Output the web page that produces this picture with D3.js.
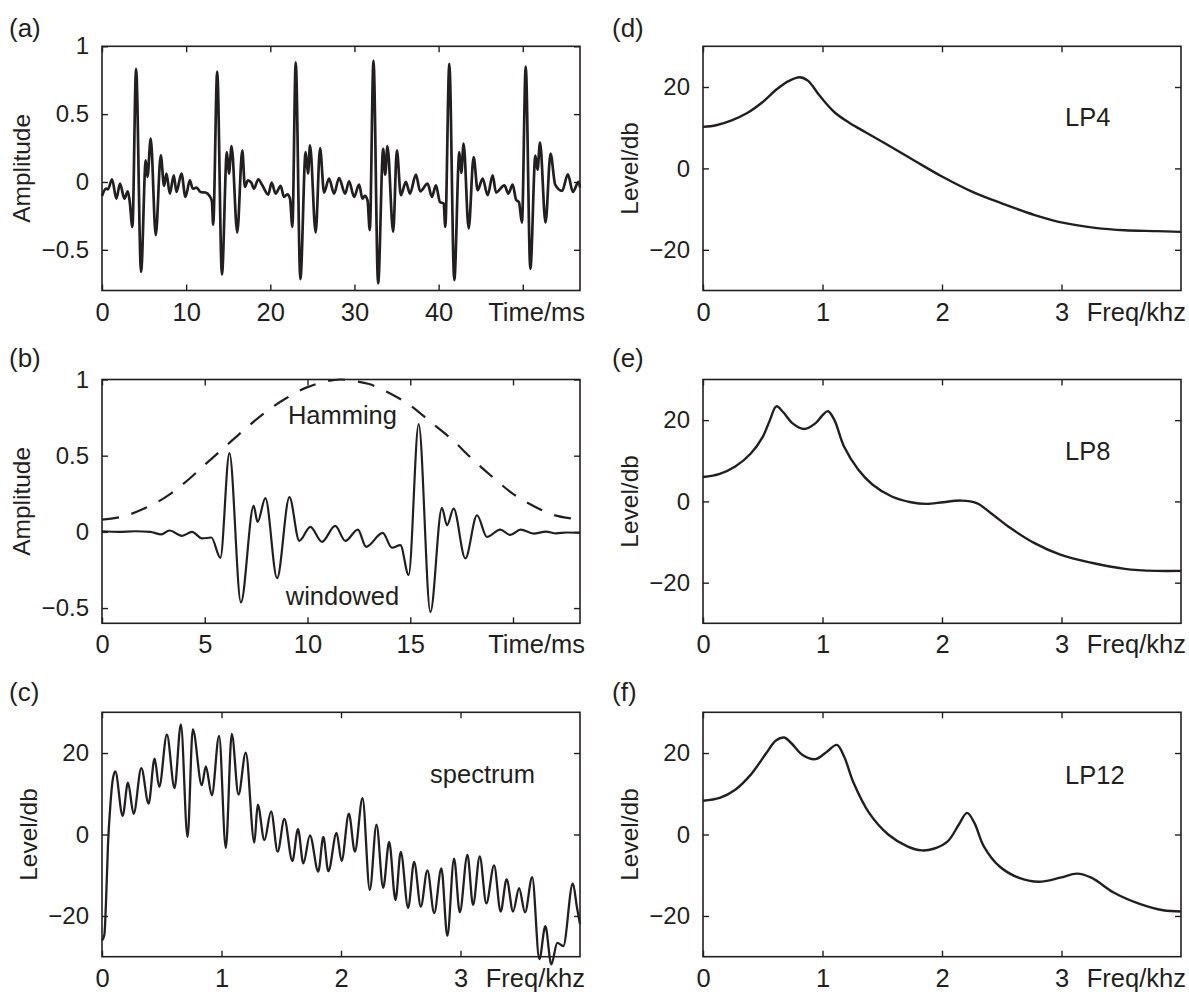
<!DOCTYPE html>
<html>
<head>
<meta charset="utf-8">
<script src="https://cdn.jsdelivr.net/npm/d3@7"></script>
<style>
  html, body { margin: 0; padding: 0; background: #fff; }
  svg { display: block; }
</style>
</head>
<body>
<svg id="fig" width="1189" height="992"></svg>
<script>
// (a) voiced speech segment
const speechMs = [0.00, 0.48, 0.71, 1.19, 1.71, 2.14, 2.66, 3.06, 3.29, 3.61,
  4.05, 4.64, 5.20, 5.40, 5.79, 6.39, 6.98,
  7.38, 7.66, 8.06, 8.53, 8.85, 9.44, 9.92, 10.44, 10.79, 11.23, 11.71, 12.30, 12.78, 13.06, 13.21,
  13.69, 14.25, 14.84, 15.08, 15.40, 16.07, 16.67,
  16.98, 17.34, 17.74, 18.06, 18.57, 19.05, 19.76, 20.16, 20.63, 21.23, 21.63, 22.02, 22.34, 22.62,
  23.02, 23.57, 24.20, 24.48, 24.72, 25.39, 25.91,
  26.39, 26.98, 27.58, 28.17, 28.89, 29.36, 29.95, 30.55, 30.95, 31.23, 31.55, 31.82,
  32.26, 32.81, 33.41, 33.65, 33.92, 34.60, 35.04,
  35.51, 36.11, 36.59, 37.30, 37.81, 38.69, 39.20, 39.68, 40.16, 40.60, 40.79,
  41.27, 41.86, 42.46, 42.69, 42.97, 43.57, 44.16,
  44.64, 45.23, 45.83, 46.42, 46.82, 47.82, 48.29, 48.80, 49.20, 49.55, 49.90,
  50.35, 50.90, 51.50, 51.75, 52.05, 52.70, 53.30,
  53.85, 54.67, 55.36, 55.95, 56.63, 56.80];
const speechAmp = [-0.103, -0.049, -0.054, 0.020, -0.123, -0.012, -0.123, -0.069, -0.142, -0.331,
  0.833, -0.662, 0.159, 0.037, 0.319, -0.392, 0.196,
  -0.029, 0.061, -0.086, 0.049, -0.074, 0.061, -0.110, 0.012, -0.049, -0.042, -0.074, -0.078, -0.103, -0.142, -0.314,
  0.814, -0.681, 0.221, 0.061, 0.265, -0.373, 0.233,
  -0.037, 0.012, -0.005, -0.049, 0.020, -0.025, -0.093, -0.005, -0.086, -0.029, -0.110, -0.091, -0.123, -0.331,
  0.882, -0.716, 0.221, 0.061, 0.270, -0.373, 0.250,
  -0.078, 0.025, -0.086, 0.029, -0.086, 0.005, -0.110, -0.020, -0.123, -0.103, -0.135, -0.355,
  0.895, -0.748, 0.245, 0.054, 0.265, -0.368, 0.233,
  -0.098, 0.000, -0.086, 0.054, -0.069, -0.012, -0.110, -0.025, -0.147, -0.159, -0.331,
  0.870, -0.723, 0.221, 0.066, 0.282, -0.343, 0.184,
  -0.061, 0.025, -0.098, 0.049, -0.078, -0.025, -0.086, -0.020, -0.130, -0.150, -0.300,
  0.850, -0.640, 0.195, 0.090, 0.290, -0.300, 0.210,
  -0.020, -0.066, 0.056, -0.073, 0.000, -0.040];

// (b) Hamming-windowed frame and the window itself
const windowedMs = [0, 0.81, 1.62, 2.35, 2.89, 3.28, 3.89, 4.38, 4.87, 5.32,
  5.76, 6.20, 6.76, 7.38, 7.57, 7.95, 8.52, 9.12, 9.60, 10.14,
  10.70, 11.35, 11.84, 12.45, 12.85, 13.66, 14.11, 14.52, 14.92, 15.41,
  15.98, 16.54, 16.79, 17.11, 17.68, 18.25, 18.73, 19.38, 19.86, 20.37,
  21.0, 21.6, 22.1, 22.6, 23.26];
const windowedAmp = [0.004, 0.000, 0.004, 0.000, -0.017, 0.009, -0.026, 0.000, -0.043, -0.037,
  -0.170, 0.517, -0.463, 0.170, 0.065, 0.222, -0.304, 0.228, -0.059, 0.033,
  -0.065, 0.039, -0.059, 0.015, -0.098, -0.007, -0.104, -0.087, -0.283, 0.707,
  -0.526, 0.157, 0.043, 0.152, -0.174, 0.109, -0.033, 0.015, -0.020, 0.015,
  -0.011, 0.002, -0.010, -0.004, -0.007];
const hammingMs = [0, 1, 2, 3, 4, 5, 6, 7, 8, 9, 10, 11, 11.6, 12, 13, 14, 15, 16, 17, 18, 19, 20, 21, 22, 23.26];
const hammingAmp = [0.08, 0.10, 0.15, 0.22, 0.32, 0.44, 0.56, 0.68, 0.79, 0.88, 0.95, 0.99, 1.0, 0.995,
  0.97, 0.91, 0.83, 0.72, 0.61, 0.48, 0.36, 0.25, 0.17, 0.11, 0.08];

// (c) short-time spectrum
const spectrumKhz = [0.000, 0.020, 0.033, 0.050, 0.070, 0.089, 0.111, 0.173, 0.217, 0.265,
  0.329, 0.390, 0.440, 0.479, 0.543, 0.607, 0.660, 0.716, 0.760, 0.835,
  0.869, 0.919, 0.980, 1.036, 1.086, 1.142, 1.203, 1.275, 1.303, 1.359,
  1.415, 1.470, 1.526, 1.593, 1.640, 1.685, 1.740, 1.810, 1.852, 1.894,
  1.963, 2.005, 2.066, 2.116, 2.180, 2.241, 2.297, 2.353, 2.403, 2.456,
  2.500, 2.562, 2.612, 2.668, 2.723, 2.780, 2.840, 2.890, 2.946, 2.994,
  3.058, 3.105, 3.161, 3.216, 3.281, 3.336, 3.386, 3.440, 3.490, 3.540,
  3.600, 3.660, 3.710, 3.760, 3.810, 3.860, 3.940, 3.975, 4.000];
const spectrumDb = [-26.0, -24.6, -17.0, -2.6, 7.2, 13.3, 15.5, 4.6, 12.7, 5.1,
  16.3, 7.6, 18.6, 11.7, 24.5, 11.4, 27.0, -0.6, 25.8, 12.1,
  16.7, 9.6, 24.2, -3.3, 24.7, 9.8, 20.1, -2.0, 7.3, -1.4,
  5.7, -4.2, 3.8, -6.5, 1.3, -7.1, -0.2, -9.1, -0.6, -9.0,
  0.4, -6.5, 5.1, -4.2, 8.9, -13.6, 2.4, -13.1, -1.8, -16.1,
  -4.3, -18.0, -6.7, -17.7, -8.8, -19.3, -8.3, -24.9, -5.9, -19.1,
  -5.0, -17.3, -5.4, -16.9, -7.6, -18.9, -11.0, -18.9, -13.2, -19.1,
  -10.5, -30.6, -22.5, -31.9, -26.6, -27.4, -12.0, -18.0, -22.0];

// (d)-(f) LPC envelopes of order 4, 8 and 12
const lp4Khz = [0, 0.11, 0.24, 0.37, 0.50, 0.62, 0.72, 0.81, 0.88, 0.975, 1.10, 1.23,
  1.36, 1.55, 1.77, 2.00, 2.25, 2.51, 2.77, 3.02, 3.28, 3.53, 3.79, 4.00];
const lp4Db = [10.2, 10.6, 11.8, 13.6, 16.3, 19.5, 21.5, 22.4, 21.5, 17.9, 13.8, 11.1,
  8.9, 5.7, 1.9, -2.0, -5.7, -8.7, -11.4, -13.4, -14.6, -15.2, -15.4, -15.6];
const lp8Khz = [0, 0.14, 0.27, 0.40, 0.50, 0.56, 0.614, 0.67, 0.75, 0.847,
  0.94, 1.00, 1.046, 1.10, 1.18, 1.30, 1.42, 1.58, 1.74, 1.87,
  2.01, 2.16, 2.29, 2.41, 2.57, 2.77, 2.99, 3.25, 3.53, 3.79, 4.00];
const lp8Db = [6.0, 6.8, 8.6, 11.8, 15.9, 20.0, 23.4, 22.0, 19.2, 17.8,
  19.2, 21.2, 22.2, 20.0, 13.5, 7.8, 4.1, 1.2, -0.2, -0.6,
  -0.2, 0.2, -0.4, -2.9, -6.5, -10.2, -13.1, -15.1, -16.6, -17.1, -17.1];
const lp12Khz = [0, 0.14, 0.27, 0.40, 0.53, 0.61, 0.68, 0.74, 0.83, 0.94,
  1.04, 1.12, 1.18, 1.26, 1.39, 1.55, 1.71, 1.83, 1.93, 2.05,
  2.14, 2.21, 2.27, 2.35, 2.48, 2.64, 2.81, 2.99, 3.13, 3.25,
  3.44, 3.66, 3.85, 4.00];
const lp12Db = [8.3, 9.0, 11.0, 14.7, 20.0, 23.1, 23.8, 22.4, 19.6, 18.5,
  20.4, 22.0, 19.2, 12.7, 5.3, 0.0, -2.9, -3.9, -3.5, -1.6,
  2.4, 5.3, 2.9, -2.9, -7.8, -10.6, -11.6, -10.6, -9.6, -10.6,
  -14.3, -17.1, -18.6, -18.9];

// tick values
const timeTicksA = [0, 10, 20, 30, 40, 50];
const timeLabelsA = [0, 10, 20, 30, 40];
const timeTicksB = [0, 5, 10, 15, 20];
const timeLabelsB = [0, 5, 10, 15];
const freqTicks = [0, 1, 2, 3];
const freqLabels = [0, 1, 2, 3];
const ampTicks = [-0.5, 0, 0.5, 1];
const levelTicks = [-20, 0, 20];

// ---- layout and styling ----
const ink = "#231f20";
const fontFamily = '"Liberation Sans", Arial, Helvetica, sans-serif';
const cols = [{ left: 102, right: 580, tag: 9 }, { left: 703, right: 1181, tag: 612 }];
const rows = [{ top: 46.3, bottom: 290.5, tag: 37 }, { top: 379.5, bottom: 623.3, tag: 367 }, { top: 712.3, bottom: 956.7, tag: 701 }];
const sizes = { yTick: 24, xTick: 25.5, unit: 25.5, title: 24.5, tag: 26, note: 25.5 };

const smooth = d3.curveMonotoneX;
const envelope = d3.curveCatmullRom.alpha(0.5);

const panels = [
  { tag: "(a)", col: 0, row: 0, xDomain: [0, 56.8], yDomain: [-0.8, 1],
    xTicks: timeTicksA, xLabels: timeLabelsA, yTicks: ampTicks, unit: "Time/ms",
    yTitle: "Amplitude", yTitleOffset: -72,
    series: [{ x: speechMs, y: speechAmp, width: 2.7, curve: smooth }], notes: [] },
  { tag: "(b)", col: 0, row: 1, xDomain: [0, 23.26], yDomain: [-0.6, 1],
    xTicks: timeTicksB, xLabels: timeLabelsB, yTicks: ampTicks, unit: "Time/ms",
    yTitle: "Amplitude", yTitleOffset: -72,
    series: [{ x: hammingMs, y: hammingAmp, width: 2.2, dash: "17,13", curve: envelope },
             { x: windowedMs, y: windowedAmp, width: 2.2, curve: smooth }],
    notes: [{ text: "Hamming", at: [11.7, 0.71], anchor: "middle" },
            { text: "windowed", at: [11.7, -0.477], anchor: "middle" }] },
  { tag: "(c)", col: 0, row: 2, xDomain: [0, 4], yDomain: [-30, 30],
    xTicks: freqTicks, xLabels: freqLabels, yTicks: levelTicks, unit: "Freq/khz",
    yTitle: "Level/db", yTitleOffset: -65,
    series: [{ x: spectrumKhz, y: spectrumDb, width: 2.3, curve: smooth }],
    notes: [{ text: "spectrum", at: [2.745, 12.6], anchor: "start" }] },
  { tag: "(d)", col: 1, row: 0, xDomain: [0, 4], yDomain: [-30, 30],
    xTicks: freqTicks, xLabels: freqLabels, yTicks: levelTicks, unit: "Freq/khz",
    yTitle: "Level/db", yTitleOffset: -65,
    series: [{ x: lp4Khz, y: lp4Db, width: 2.4, curve: envelope }],
    notes: [{ text: "LP4", at: [3.03, 10.4], anchor: "start" }] },
  { tag: "(e)", col: 1, row: 1, xDomain: [0, 4], yDomain: [-30, 30],
    xTicks: freqTicks, xLabels: freqLabels, yTicks: levelTicks, unit: "Freq/khz",
    yTitle: "Level/db", yTitleOffset: -65,
    series: [{ x: lp8Khz, y: lp8Db, width: 2.4, curve: envelope }],
    notes: [{ text: "LP8", at: [3.03, 10.2], anchor: "start" }] },
  { tag: "(f)", col: 1, row: 2, xDomain: [0, 4], yDomain: [-30, 30],
    xTicks: freqTicks, xLabels: freqLabels, yTicks: levelTicks, unit: "Freq/khz",
    yTitle: "Level/db", yTitleOffset: -65,
    series: [{ x: lp12Khz, y: lp12Db, width: 2.4, curve: envelope }],
    notes: [{ text: "LP12", at: [3.03, 12.4], anchor: "start" }] }
];

const svg = d3.select("#fig");
const signed = d => (d < 0 ? "\u2212" + Math.abs(d) : String(d));

function styleAxis(sel, size) {
  sel.select(".domain").remove();
  sel.selectAll(".tick line").attr("stroke", ink).attr("stroke-width", 1.4);
  sel.selectAll(".tick text")
    .attr("fill", ink)
    .style("font-family", fontFamily)
    .style("font-size", size + "px");
}

function addText(g, str, x, y, anchor, size) {
  return g.append("text")
    .attr("x", x).attr("y", y)
    .attr("text-anchor", anchor)
    .attr("fill", ink)
    .style("font-family", fontFamily)
    .style("font-size", size + "px")
    .text(str);
}

panels.forEach(p => {
  const c = cols[p.col], r = rows[p.row];
  const x = d3.scaleLinear().domain(p.xDomain).range([c.left, c.right]);
  const y = d3.scaleLinear().domain(p.yDomain).range([r.bottom, r.top]);
  const g = svg.append("g");

  p.series.forEach(s => {
    const line = d3.line()
      .x(d => x(d[0]))
      .y(d => y(d[1]))
      .curve(s.curve);
    g.append("path")
      .datum(d3.zip(s.x, s.y))
      .attr("fill", "none")
      .attr("stroke", ink)
      .attr("stroke-width", s.width)
      .attr("stroke-linejoin", "round")
      .attr("stroke-dasharray", s.dash || null)
      .attr("d", line);
  });

  // frame
  g.append("rect")
    .attr("x", c.left).attr("y", r.top)
    .attr("width", c.right - c.left).attr("height", r.bottom - r.top)
    .attr("fill", "none").attr("stroke", ink).attr("stroke-width", 1.6);

  // inward ticks on all four sides
  g.append("g").attr("transform", `translate(0,${r.bottom})`)
    .call(d3.axisBottom(x).tickValues(p.xTicks).tickSize(-6)
      .tickFormat(d => (p.xLabels.includes(d) ? signed(d) : "")))
    .call(styleAxis, sizes.xTick)
    .call(s => s.selectAll(".tick text").attr("y", 30).attr("dy", null));
  g.append("g").attr("transform", `translate(0,${r.top})`)
    .call(d3.axisTop(x).tickValues(p.xTicks).tickSize(-6).tickFormat(""))
    .call(styleAxis, sizes.xTick);
  g.append("g").attr("transform", `translate(${c.left},0)`)
    .call(d3.axisLeft(y).tickValues(p.yTicks).tickSize(-6).tickPadding(13).tickFormat(signed))
    .call(styleAxis, sizes.yTick);
  g.append("g").attr("transform", `translate(${c.right},0)`)
    .call(d3.axisRight(y).tickValues(p.yTicks).tickSize(-6).tickFormat(""))
    .call(styleAxis, sizes.yTick);

  // unit label at the end of the x axis
  addText(g, p.unit, c.right + 5, r.bottom + 30, "end", sizes.unit);

  // y axis title
  g.append("text")
    .attr("transform", `translate(${c.left + p.yTitleOffset},${(r.top + r.bottom) / 2}) rotate(-90)`)
    .attr("text-anchor", "middle")
    .attr("fill", ink)
    .style("font-family", fontFamily)
    .style("font-size", sizes.title + "px")
    .text(p.yTitle);

  // panel tag
  addText(g, p.tag, c.tag, r.tag, "start", sizes.tag);

  // in-plot annotations
  p.notes.forEach(n => addText(g, n.text, x(n.at[0]), y(n.at[1]), n.anchor, sizes.note));
});
</script>
</body>
</html>
